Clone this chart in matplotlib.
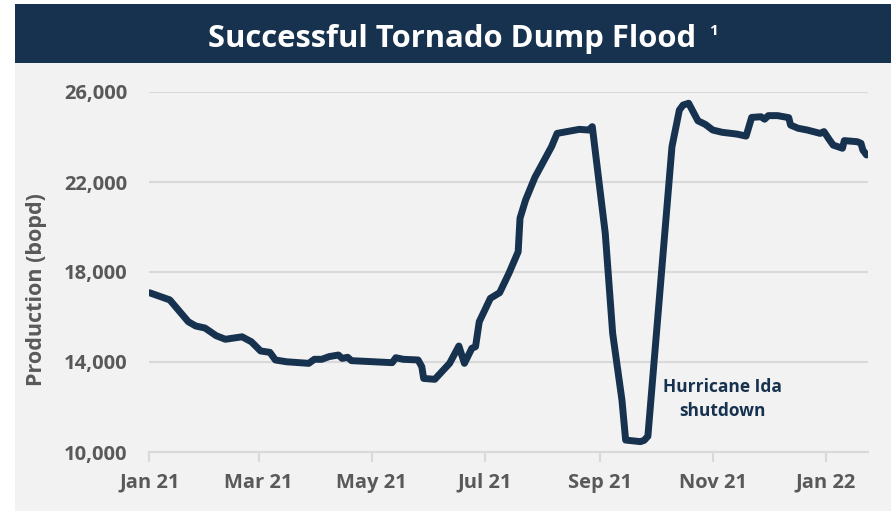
import matplotlib.pyplot as plt
import numpy as np
from matplotlib.patches import Rectangle

# production readings (date, bopd)
dates = [
    "2021-01-01", "2021-01-12", "2021-01-22", "2021-01-26", "2021-01-31", "2021-02-06",
    "2021-02-11", "2021-02-20", "2021-02-25", "2021-03-02", "2021-03-07", "2021-03-10",
    "2021-03-16", "2021-03-28", "2021-03-31", "2021-04-04", "2021-04-08", "2021-04-13",
    "2021-04-15", "2021-04-18", "2021-04-20", "2021-05-12", "2021-05-14", "2021-05-18",
    "2021-05-26", "2021-05-28", "2021-05-29", "2021-06-04", "2021-06-12", "2021-06-17",
    "2021-06-20", "2021-06-24", "2021-06-26", "2021-06-28", "2021-07-04", "2021-07-09",
    "2021-07-14", "2021-07-19", "2021-07-20", "2021-07-23", "2021-07-28", "2021-08-06",
    "2021-08-09", "2021-08-17", "2021-08-21", "2021-08-26", "2021-08-28", "2021-09-04",
    "2021-09-08", "2021-09-13", "2021-09-15", "2021-09-23", "2021-09-25", "2021-09-27",
    "2021-10-10", "2021-10-14", "2021-10-16", "2021-10-19", "2021-10-24", "2021-10-28",
    "2021-11-01", "2021-11-06", "2021-11-14", "2021-11-19", "2021-11-22", "2021-11-27",
    "2021-11-29", "2021-12-01", "2021-12-06", "2021-12-12", "2021-12-13", "2021-12-17",
    "2021-12-22", "2021-12-29", "2021-12-31", "2022-01-03", "2022-01-05", "2022-01-10",
    "2022-01-11", "2022-01-18", "2022-01-20", "2022-01-21", "2022-01-23",
]
production = [
    17080, 16760, 15790, 15600, 15510, 15170,
    15010, 15120, 14900, 14490, 14430, 14090,
    14010, 13940, 14120, 14120, 14240, 14310,
    14160, 14210, 14060, 13970, 14190, 14120,
    14090, 13790, 13270, 13230, 13940, 14710,
    13940, 14610, 14680, 15790, 16830, 17080,
    17940, 18900, 20390, 21200, 22200, 23570,
    24160, 24280, 24340, 24310, 24460, 19720,
    15270, 12310, 10530, 10460, 10520, 10700,
    23570, 25200, 25420, 25500, 24720, 24560,
    24310, 24210, 24130, 24040, 24870, 24900,
    24790, 24950, 24950, 24860, 24530, 24390,
    24310, 24160, 24240, 23870, 23640, 23500,
    23840, 23790, 23720, 23420, 23200,
]
tick_dates = ["2021-01-01", "2021-03-01", "2021-05-01", "2021-07-01",
              "2021-09-01", "2021-11-01", "2022-01-01"]
tick_labels = ["Jan 21", "Mar 21", "May 21", "Jul 21", "Sep 21", "Nov 21", "Jan 22"]
y_ticks = [10000, 14000, 18000, 22000, 26000]

navy = "#17324f"
grey_txt = "#595959"
grid_col = "#d9d9d9"
font = "Open Sans"

fig = plt.figure(figsize=(8.91, 5.11), dpi=100)
fig.patch.set_facecolor("white")
# light panel and title banner
fig.add_artist(Rectangle((15 / 891, 0), 1, 448 / 511, transform=fig.transFigure,
                         facecolor="#f2f2f2", edgecolor="none", zorder=0))
fig.add_artist(Rectangle((15 / 891, 448 / 511), 1, 59 / 511, transform=fig.transFigure,
                         facecolor=navy, edgecolor="none", zorder=0))
fig.text(452 / 891, 464 / 511, "Successful Tornado Dump Flood", color="white",
         fontsize=22.3, fontweight="bold", family=font, ha="center", va="baseline")
fig.text(709 / 891, 476 / 511, "1", color="white",
         fontsize=11, fontweight="bold", family=font, ha="left", va="baseline")

ax = fig.add_axes([149.4 / 891, 59 / 511, 719 / 891, 360 / 511])
ax.set_facecolor("none")

x = np.array(dates, dtype="datetime64[D]")
ax.plot(x, production, color=navy, linewidth=5, solid_joinstyle="round",
        solid_capstyle="round", zorder=3)

ax.set_ylim(10000, 26000)
ax.set_xlim(np.datetime64("2021-01-01"), np.datetime64("2022-01-24"))
ax.set_yticks(y_ticks)
ax.set_yticklabels([f"{v:,}" for v in y_ticks])
ax.set_xticks(np.array(tick_dates, dtype="datetime64[D]"))
ax.set_xticklabels(tick_labels)
ax.grid(axis="y", color=grid_col, linewidth=1.5, zorder=1)
for s in ["top", "right", "left"]:
    ax.spines[s].set_visible(False)
ax.spines["bottom"].set_color(grid_col)
ax.spines["bottom"].set_linewidth(1.5)
ax.tick_params(axis="y", length=0, pad=16)
ax.tick_params(axis="x", length=7, width=1.5, color=grid_col, pad=8)
for lab in ax.get_xticklabels() + ax.get_yticklabels():
    lab.set_fontfamily(font)
    lab.set_fontweight("bold")
    lab.set_color(grey_txt)
    lab.set_fontsize(14.5)

ax.set_ylabel("Production (bopd)", family=font, fontweight="bold", color=grey_txt,
              fontsize=15.5, va="center", ha="center")
ax.yaxis.set_label_coords((37 - 149.4) / 719, 0.45)

ax.text(np.datetime64("2021-11-06"), 12350, "Hurricane Ida\nshutdown", color=navy,
        family=font, fontweight="bold", fontsize=12.5, ha="center", va="center",
        linespacing=1.4)

fig.savefig("out.png", dpi=100)
